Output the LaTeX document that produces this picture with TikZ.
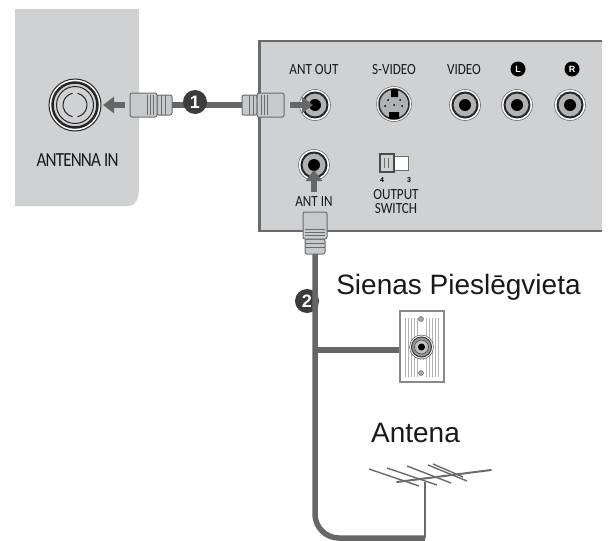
\documentclass[tikz,border=0pt]{standalone}
\usepackage{fontspec}
\setmainfont{Liberation Sans}
\newfontfamily\panelfont[FakeStretch=0.85]{Carlito}
\usetikzlibrary{arrows.meta, calc}
\definecolor{panelGray}{RGB}{208,209,211}
\definecolor{edgeGray}{RGB}{105,107,110}
\definecolor{cableGray}{RGB}{100,102,104}
\definecolor{plugGray}{RGB}{200,201,203}
\definecolor{badgeDark}{RGB}{60,60,62}
\tikzset{
  panellabel/.style={font=\panelfont\fontsize{15.5}{17}\selectfont, text=black!90, inner sep=0pt},
  biglabel/.style={font=\fontsize{28}{30}\selectfont, text=black!90, inner sep=0pt},
  cable/.style={cableGray, line width=5.5pt},
  pointer/.style={cableGray, line width=6.5pt, -{Triangle[width=16pt,length=11pt]}},
  badge/.style={circle, fill=badgeDark, text=white, inner sep=0pt, minimum size=24pt, font=\bfseries\fontsize{18}{18}\selectfont},
  smallbadge/.style={circle, fill=black, text=white, inner sep=0pt, minimum size=15pt, font=\bfseries\fontsize{9}{9}\selectfont},
  plug/.pic={
    \draw[edgeGray, fill=plugGray, line width=1pt, rounded corners=2pt] (-27,-10) rectangle (-42,10);
    \draw[edgeGray, fill=plugGray, line width=1pt, rounded corners=2pt] (0,-12) rectangle (-27,12);
    \foreach \ribx in {-17,-20,-23,-31,-35}
      \draw[edgeGray, line width=.7pt] (\ribx,-10) -- (\ribx,10);
  },
  jack/.pic={
    \draw[edgeGray, fill=white, line width=.6pt] (0,0) circle (15.5);
    \draw[black!85, fill=panelGray!85!black, line width=2pt] (0,0) circle (12.5);
    \fill[black] (0,0) circle (6);
  },
}
\begin{document}
\begin{tikzpicture}[x=1pt,y=-1pt]
  \useasboundingbox (0,0) rectangle (608,541);
  % TV side panel
  \fill[panelGray] (15,9) -- (139,9) -- (139,188) .. controls (139,198) and (136,206) .. (128,206) -- (15,206) -- cycle;
  \draw[black!85, fill=white, line width=1pt] (75,105) circle (26);
  \draw[black!85, fill=panelGray, line width=2.5pt] (75,105) circle (22.5);
  \draw[black!85, line width=1pt] (75,105) circle (18.5);
  \draw[black!85, line width=1pt] (75,105) ++(-78:12) arc (-78:78:12);
  \draw[black!85, line width=1pt] (75,105) ++(102:12) arc (102:258:12);
  \node[panellabel, font=\panelfont\fontsize{20}{22}\selectfont\addfontfeatures{LetterSpace=-4}] (antennain) at (77.5,160) {ANTENNA IN};
  % back panel
  \draw[edgeGray, fill=panelGray, line width=2.5pt] (602,41) -- (259.5,41) -- (259.5,231) -- (602,231);
  \node[panellabel] (antout) at (314,70) {ANT OUT};
  \node[panellabel] (svideo) at (394,70) {S-VIDEO};
  \node[panellabel] (videolbl) at (464,70) {VIDEO};
  \node[smallbadge] (lbadge) at (518,69) {L};
  \node[smallbadge] (rbadge) at (572,69) {R};
  \node[panellabel] (antinlbl) at (314,202) {ANT IN};
  \node[panellabel, align=center, font=\panelfont\fontsize{15.5}{14}\selectfont] (switchlbl) at (396,202) {OUTPUT\\SWITCH};
  \node[inner sep=0pt, font=\bfseries\fontsize{7}{7}\selectfont] (four) at (382,180) {4};
  \node[inner sep=0pt, font=\bfseries\fontsize{7}{7}\selectfont] (three) at (409,180) {3};
  % ports
  \foreach \portx/\porty in {315/105,465/105,517/105,570/105,314/165}
    \pic at (\portx,\porty) {jack};
  % s-video
  \draw[edgeGray, fill=white, line width=.6pt] (394,104) circle (17.5);
  \draw[black!85, fill=panelGray!85!black, line width=1.5pt] (394,104) circle (15);
  \fill[black] (391,89) rectangle (398,97) (389,112) rectangle (399,119);
  \foreach \dotx/\doty in {385/106,388/100,394/105,402/106,400/100}
    \fill[black] (\dotx,\doty) circle (1);
  % output switch
  \draw[edgeGray, fill=white, line width=.5pt] (394,156) rectangle (408,170);
  \draw[edgeGray!70!black, fill=panelGray, line width=1.5pt] (380,154) rectangle (394,172);
  \draw[edgeGray, line width=.7pt] (384,158) -- (384,168) (388,158) -- (388,168);
  % cable 1
  \coordinate (plugleft) at (130,105);
  \coordinate (plugright) at (284,105);
  \coordinate (cableone) at (165,105);
  \coordinate (cableonb) at (250,105);
  \draw[cable] (cableone) -- (cableonb);
  \node[badge] (one) at (195,102) {1};
  \pic[rotate=180] at (plugleft) {plug};
  \pic at (plugright) {plug};
  \coordinate (arrowAs) at (125,105);
  \coordinate (arrowAe) at (103,105);
  \draw[pointer] (arrowAs) -- (arrowAe);
  \coordinate (arrowBs) at (290,105);
  \coordinate (arrowBe) at (313,105);
  \draw[pointer] (arrowBs) -- (arrowBe);
  \coordinate (arrowCs) at (314,192);
  \coordinate (arrowCe) at (314,170);
  \draw[pointer] (arrowCs) -- (arrowCe);
  % cable 2
  \node[badge] (two) at (307,301) {2};
  \coordinate (plugbottom) at (315,212);
  \coordinate (mastfoot) at (425,538);
  \coordinate (masttop) at (425,482);
  \coordinate (branch) at (315,350);
  \coordinate (plate) at (399,350);
  \draw[cable, rounded corners=24pt] (315,245) -- (315,538) -- (mastfoot);
  \draw[cable] (branch) -- (plate);
  \pic[rotate=90] at (plugbottom) {plug};
  % wall plate
  \draw[edgeGray!80, fill=white, line width=2pt] (400,310.5) rectangle (444,381.5);
  \foreach \stripex in {405,408,...,438}
    \draw[black!30, line width=.5pt] (\stripex,318) -- (\stripex,377);
  \fill[white] (418,315) rectangle (426,335) (418,360) rectangle (426,378);
  \draw[edgeGray, fill=black!35, line width=.5pt] (421,319) circle (2.5) (421,373) circle (2.5);
  \draw[black!70, fill=white, line width=.5pt] (421.5,347) circle (12);
  \draw[black!80, fill=black!40, line width=1pt] (421.5,347) circle (10);
  \draw[black!80, fill=white!75!black, line width=.5pt] (421.5,347) circle (7);
  \fill[black] (421.5,347) circle (3.5);
  \node[biglabel, anchor=base] (wall) at (458.5,294) {Sienas Pieslēgvieta};
  \node[biglabel, anchor=base] (antena) at (415.5,442) {Antena};
  % antenna
  \draw[edgeGray, line width=2pt] (masttop) -- (mastfoot);
  \draw[edgeGray, line width=2pt, line cap=round] (397,482) -- (491,470);
  \foreach \ax/\ay/\bx/\by in {369/469/419/486,387/468/437/485,407/466/451/483,428/465/467/481,433/464/463/477}
    \draw[edgeGray, line width=1.4pt] (\ax,\ay) -- (\bx,\by);
\end{tikzpicture}
\end{document}
